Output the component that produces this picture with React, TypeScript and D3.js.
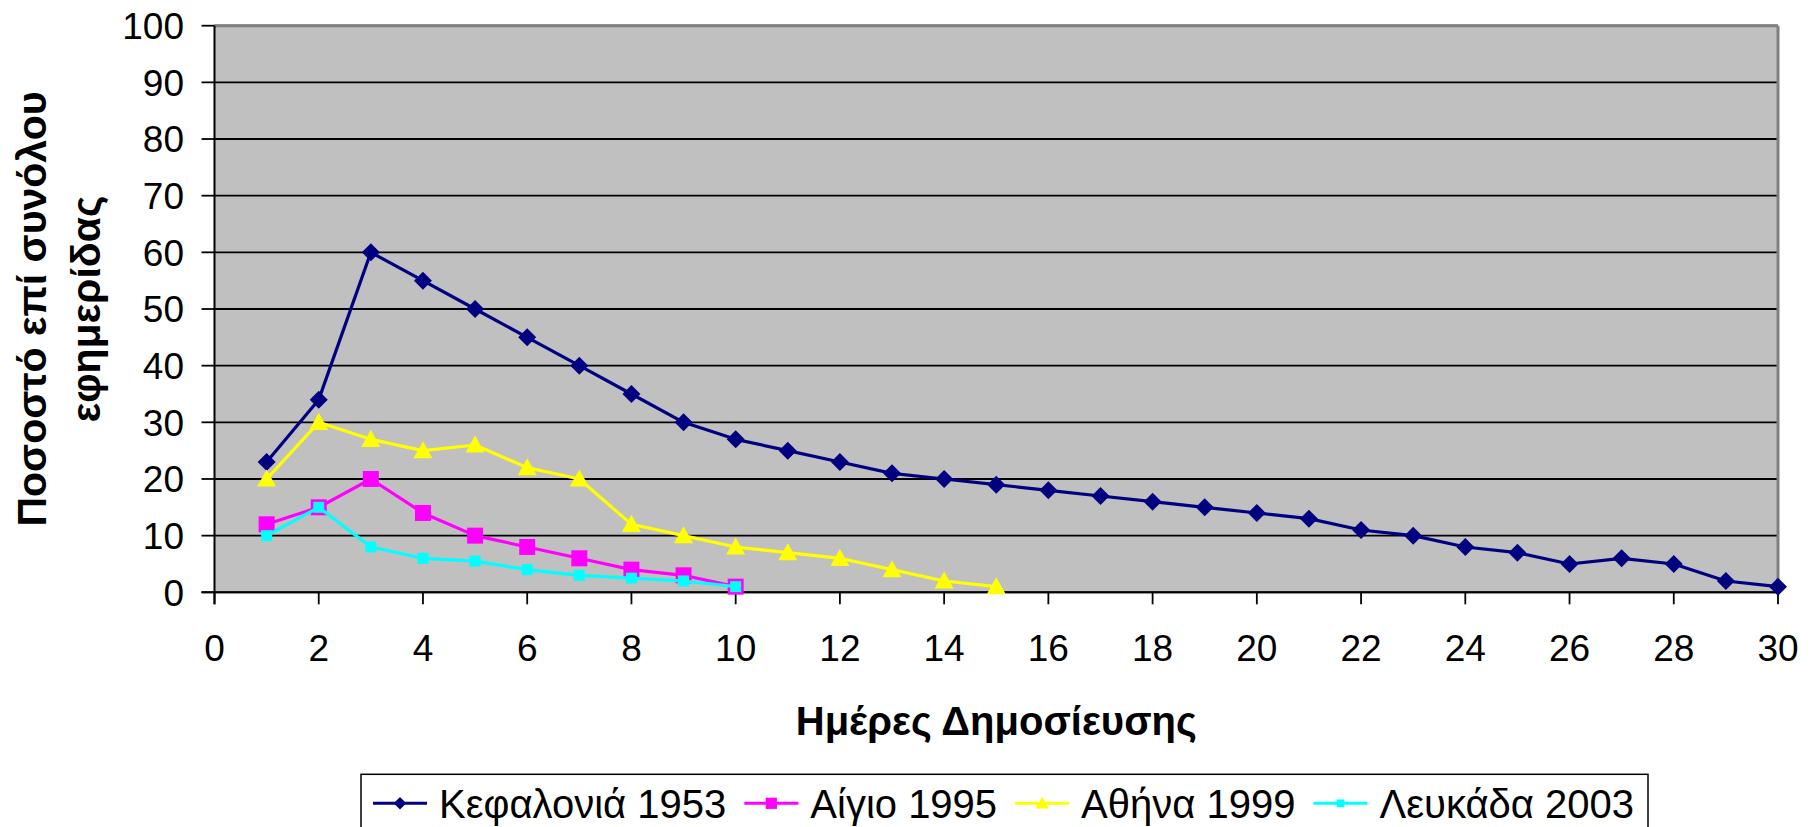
import React from "react";
import * as d3 from "d3";

const days = d3.range(1, 31);
const kefalonia1953 = [23, 34, 60, 55, 50, 45, 40, 35, 30, 27, 25, 23, 21, 20, 19, 18, 17, 16, 15, 14, 13, 11, 10, 8, 7, 5, 6, 5, 2, 1];
const aigio1995 = [12, 15, 20, 14, 10, 8, 6, 4, 3, 1];
const athina1999 = [20, 30, 27, 25, 26, 22, 20, 12, 10, 8, 7, 6, 4, 2, 1];
const lefkada2003 = [10, 15, 8, 6, 5.5, 4, 3, 2.5, 2, 1];
const seriesNames = ["Κεφαλονιά 1953", "Αίγιο 1995", "Αθήνα 1999", "Λευκάδα 2003"];
const xTicks = d3.range(0, 31, 2);
const yTicks = d3.range(0, 101, 10);
const xTitle = "Ημέρες Δημοσίευσης";
const yTitleLines = ["Ποσοστό επί συνόλου", "εφημερίδας"];

const W = 1815, H = 827;
const L = 214.5, R = 1778, T = 25.7, B = 592.3;
const FONT = "'Liberation Sans', Arial, sans-serif";

type Shape = "diamond" | "square" | "triangle" | "smallsquare";
const seriesStyle: { color: string; shape: Shape }[] = [
  { color: "#000080", shape: "diamond" },
  { color: "#FF00FF", shape: "square" },
  { color: "#FFFF00", shape: "triangle" },
  { color: "#00FFFF", shape: "smallsquare" },
];
const seriesData = [kefalonia1953, aigio1995, athina1999, lefkada2003];

function Marker({ shape, color, x, y, s = 1 }: { shape: Shape; color: string; x: number; y: number; s?: number }) {
  if (shape === "diamond") {
    const r = 9 * s;
    return <path d={`M${x},${y - r}L${x + r},${y}L${x},${y + r}L${x - r},${y}Z`} fill={color} />;
  }
  if (shape === "square") {
    const r = 8 * s;
    return <rect x={x - r} y={y - r} width={2 * r} height={2 * r} fill={color} />;
  }
  if (shape === "smallsquare") {
    const r = 5.5 * s;
    return <rect x={x - r} y={y - r} width={2 * r} height={2 * r} fill={color} />;
  }
  const r = 9.5 * s;
  return <path d={`M${x},${y - r}L${x + r},${y + r * 0.8}L${x - r},${y + r * 0.8}Z`} fill={color} />;
}

function measure(text: string, font: string) {
  const c = document.createElement("canvas").getContext("2d");
  if (!c) return text.length * 20;
  c.font = font;
  return c.measureText(text).width;
}

export default function App() {
  const x = d3.scaleLinear().domain([0, 30]).range([L, R]);
  const y = d3.scaleLinear().domain([0, 100]).range([B, T]);
  const line = d3
    .line<number>()
    .x((_, i) => x(days[i]))
    .y((d) => y(d));

  const legFont = "40px 'Liberation Sans', Arial, sans-serif";
  let cx = 373;
  const legendItems = seriesNames.map((name, i) => {
    const lx = cx;
    const tx = lx + 54 + 12;
    const tw = measure(name, legFont);
    cx = tx + tw + 18;
    return { name, lx, tx, i };
  });

  return (
    <svg width={W} height={H} style={{ position: "absolute", left: 0, top: 0, background: "#fff" }}>
      <rect x={L} y={T} width={R - L} height={B - T} fill="#C0C0C0" />
      {yTicks.map((t) => (
        <line key={t} x1={L} x2={R} y1={y(t)} y2={y(t)} stroke="#000" strokeWidth={1.8} />
      ))}
      <line x1={L} x2={R} y1={T} y2={T} stroke="#808080" strokeWidth={3} />
      <line x1={R} x2={R} y1={T} y2={B} stroke="#808080" strokeWidth={3} />
      <line x1={L} x2={L} y1={T} y2={B + 12} stroke="#000" strokeWidth={2} />
      <line x1={L - 13} x2={R} y1={B} y2={B} stroke="#000" strokeWidth={2} />
      {yTicks.map((t) => (
        <g key={t}>
          <line x1={L - 13} x2={L} y1={y(t)} y2={y(t)} stroke="#000" strokeWidth={1.8} />
          <text x={184} y={y(t) + 13.4} textAnchor="end" fontFamily={FONT} fontSize={37}>
            {t}
          </text>
        </g>
      ))}
      {xTicks.map((t) => (
        <g key={t}>
          <line x1={x(t)} x2={x(t)} y1={B} y2={B + 12} stroke="#000" strokeWidth={1.8} />
          <text x={x(t)} y={661} textAnchor="middle" fontFamily={FONT} fontSize={37}>
            {t}
          </text>
        </g>
      ))}
      {seriesData.map((data, si) => (
        <g key={si}>
          <path d={line(data) || ""} fill="none" stroke={seriesStyle[si].color} strokeWidth={3.2} strokeLinejoin="round" />
          {data.map((v, i) => (
            <Marker key={i} shape={seriesStyle[si].shape} color={seriesStyle[si].color} x={x(days[i])} y={y(v)} />
          ))}
        </g>
      ))}
      <text x={(L + R) / 2} y={735} textAnchor="middle" fontFamily={FONT} fontWeight="bold" fontSize={40}>
        {xTitle}
      </text>
      {yTitleLines.map((s, i) => (
        <text
          key={i}
          transform={`translate(${46 + i * 54},${(T + B) / 2}) rotate(-90)`}
          textAnchor="middle"
          fontFamily={FONT}
          fontWeight="bold"
          fontSize={41}
        >
          {s}
        </text>
      ))}
      <rect x={361} y={774.3} width={1648 - 361} height={80} fill="#fff" stroke="#000" strokeWidth={1.5} />
      {legendItems.map((it) => (
        <g key={it.i}>
          <line x1={it.lx} x2={it.lx + 54} y1={803.3} y2={803.3} stroke={seriesStyle[it.i].color} strokeWidth={3} />
          <Marker shape={seriesStyle[it.i].shape} color={seriesStyle[it.i].color} x={it.lx + 27} y={803.3} s={0.7} />
          <text x={it.tx} y={818.3} fontFamily={FONT} fontSize={40}>
            {it.name}
          </text>
        </g>
      ))}
    </svg>
  );
}
